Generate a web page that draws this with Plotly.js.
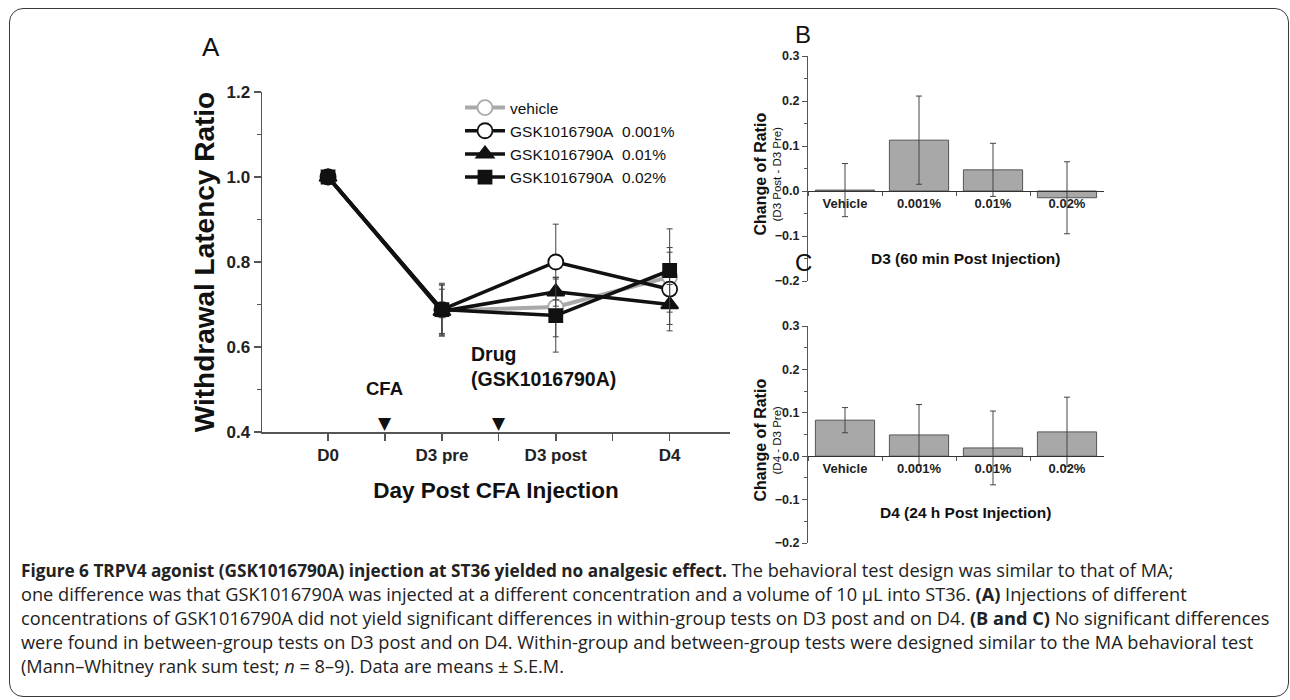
<!DOCTYPE html>
<html>
<head>
<meta charset="utf-8">
<script src="https://cdn.plot.ly/plotly-3.0.1.min.js"></script>
<style>
  html, body { margin: 0; padding: 0; background: #fff; }
  #wrap { position: relative; width: 1290px; height: 700px; overflow: hidden; }
  #chart { position: absolute; left: 0; top: 0; width: 1290px; height: 700px; }
  #frame { position: absolute; left: 9px; top: 8px; width: 1280px; height: 689px;
           border: 1.5px solid #3a3a3a; border-radius: 14px; pointer-events: none; box-sizing: border-box; }
</style>
</head>
<body>
<div id="wrap"><div id="chart"></div><div id="frame"></div></div>
<script>
// ---------------- DATA ----------------
// Panel A
const days = ["D0", "D3 pre", "D3 post", "D4"];
const seriesNames = ["vehicle", "GSK1016790A\u00a0 0.001%", "GSK1016790A\u00a0 0.01%", "GSK1016790A\u00a0 0.02%"];
const vehicleRatio = [1.0, 0.686, 0.694, 0.765];
const vehicleSem   = [0.0, 0.060, 0.070, 0.058];
const dose001Ratio = [1.0, 0.688, 0.800, 0.736];
const dose001Sem   = [0.0, 0.062, 0.089, 0.098];
const dose01Ratio  = [1.0, 0.684, 0.730, 0.700];
const dose01Sem    = [0.0, 0.052, 0.034, 0.047];
const dose02Ratio  = [1.0, 0.688, 0.674, 0.780];
const dose02Sem    = [0.0, 0.058, 0.086, 0.098];
const eventLabels  = ["CFA", "Drug<br>(GSK1016790A)"];
const eventPositions = [1.5, 2.5];   // between days (axis units)

// Panels B and C
const groups = ["Vehicle", "0.001%", "0.01%", "0.02%"];
const changeD3 = [0.002, 0.113, 0.047, -0.015];
const semD3    = [0.059, 0.098, 0.059, 0.080];
const changeD4 = [0.083, 0.049, 0.019, 0.056];
const semD4    = [0.029, 0.070, 0.085, 0.080];

const captionLines = [
  "<b><span style='font-size:17.2px'>Figure 6 TRPV4 agonist (GSK1016790A) injection at ST36 yielded no analgesic effect.</span></b> The behavioral test design was similar to that of MA;",
  "one difference was that GSK1016790A was injected at a different concentration and a volume of 10 μL into ST36. <b>(A)</b> Injections of different",
  "concentrations of GSK1016790A did not yield significant differences in within-group tests on D3 post and on D4. <b>(B and C)</b> No significant differences",
  "were found in between-group tests on D3 post and on D4. Within-group and between-group tests were designed similar to the MA behavioral test",
  "(Mann–Whitney rank sum test; <i>n</i> = 8–9). Data are means ± S.E.M."
];

// ---------------- LAYOUT HELPERS ----------------
const W = 1290, H = 700;
const fx = p => p / W;
const fy = p => 1 - p / H;
const FONT = "Liberation Sans, Arial, sans-serif";
const dayIdx = days.map((d, i) => i + 1);

function lineTrace(name, y, e, color, symbol, fill, lw, ms) {
  return {
    type: "scatter", mode: "lines+markers", name: name,
    x: dayIdx, y: y, xaxis: "x", yaxis: "y",
    line: { color: color, width: lw },
    marker: { symbol: symbol, size: ms, color: fill, line: { color: color, width: 1.8 } },
    error_y: { type: "data", array: e, visible: true, color: "#444", thickness: 1, width: 3 },
    cliponaxis: false
  };
}

const traces = [
  lineTrace(seriesNames[0], vehicleRatio, vehicleSem, "#a9a9a9", "circle", "#ffffff", 4, 15),
  lineTrace(seriesNames[1], dose001Ratio, dose001Sem, "#111111", "circle", "#ffffff", 3.5, 15),
  lineTrace(seriesNames[2], dose01Ratio, dose01Sem, "#111111", "triangle-up", "#111111", 3.5, 15),
  lineTrace(seriesNames[3], dose02Ratio, dose02Sem, "#111111", "square", "#111111", 3.5, 13),
  {
    type: "bar", x: groups, y: changeD3, xaxis: "x2", yaxis: "y2", width: 0.8, showlegend: false,
    marker: { color: "#a8a8a8", line: { color: "#555", width: 1 } },
    error_y: { type: "data", array: semD3, visible: true, color: "#444", thickness: 1, width: 3 }
  },
  {
    type: "bar", x: groups, y: changeD4, xaxis: "x3", yaxis: "y3", width: 0.8, showlegend: false,
    marker: { color: "#a8a8a8", line: { color: "#555", width: 1 } },
    error_y: { type: "data", array: semD4, visible: true, color: "#444", thickness: 1, width: 3 }
  }
];

const axColor = "#555";
const tickFontA = { family: FONT, size: 17, weight: "bold", color: "#222" };
const tickFontB = { family: FONT, size: 12.5, weight: "bold", color: "#222" };
const tickFontBx = { family: FONT, size: 13, weight: "bold", color: "#222" };

function barYAxis(top, bottom, anchor) {
  return {
    domain: [fy(bottom), fy(top)], anchor: anchor, range: [-0.2, 0.3],
    dtick: 0.1, tickformat: ".1f", ticks: "outside", ticklen: 5, tickwidth: 1, tickcolor: axColor,
    minor: { dtick: 0.05, ticks: "outside", ticklen: 3, tickcolor: axColor },
    showline: true, linecolor: axColor, linewidth: 1, showgrid: false, zeroline: false,
    tickfont: tickFontB
  };
}
function barXAxis(left, right, zeroPx) {
  return {
    domain: [fx(left), fx(right)], anchor: "free", position: fy(zeroPx),
    type: "category", range: [-0.5, 3.5], tickson: "boundaries",
    ticks: "outside", ticklen: 4, tickwidth: 1, tickcolor: axColor,
    showline: true, linecolor: "#333", linewidth: 1.2, showgrid: false, zeroline: false,
    tickfont: tickFontBx
  };
}

// Panel geometry (pixels)
const B = { top: 56, bottom: 281 };
const C = { top: 326, bottom: 543 };
const zeroB = B.bottom - (B.bottom - B.top) * 0.4;
const zeroC = C.bottom - (C.bottom - C.top) * 0.4;

const annotations = [];
function addText(text, xp, yp, size, opts) {
  annotations.push(Object.assign({
    text: text, xref: "paper", yref: "paper", x: fx(xp), y: fy(yp),
    xanchor: "center", yanchor: "middle", showarrow: false,
    font: { family: FONT, size: size, color: "#111" }
  }, opts || {}));
}
// Panel letters
addText("A", 211, 47, 26);
addText("B", 803, 34, 24);
addText("C", 803, 262, 24);
// Event markers in panel A
eventPositions.forEach((p, i) => {
  annotations.push({ text: "▼", xref: "x", yref: "y", x: p, y: 0.4, yanchor: "bottom", yshift: -3,
    showarrow: false, font: { family: "DejaVu Sans", size: 17, color: "#111" } });
});
annotations.push({ text: "<b>" + eventLabels[0] + "</b>", xref: "x", yref: "paper", x: eventPositions[0], y: fy(388),
  yanchor: "middle", xanchor: "center", showarrow: false, font: { family: FONT, size: 18.5, color: "#111" } });
annotations.push({ text: "<b>" + eventLabels[1] + "</b>", xref: "x", yref: "paper", x: eventPositions[1], y: fy(366),
  yanchor: "middle", xanchor: "left", xshift: -30, align: "left", showarrow: false,
  font: { family: FONT, size: 19.5, color: "#111" } });
// Bar panel subtitles
addText("<b>D3 (60 min Post Injection)</b>", 965, 258, 15.5);
addText("<b>D4 (24 h Post Injection)</b>", 965, 512, 15.5);
// Bar panel y titles
addText("<b>Change of Ratio</b>", 760, (B.top + B.bottom) / 2 + 6, 16, { textangle: -90 });
addText("(D3 Post - D3 Pre)", 776, (B.top + B.bottom) / 2 + 6, 11.5, { textangle: -90 });
addText("<b>Change of Ratio</b>", 760, (C.top + C.bottom) / 2 + 6, 16, { textangle: -90 });
addText("(D4 - D3 Pre)", 776, (C.top + C.bottom) / 2 + 6, 11.5, { textangle: -90 });
// Caption
captionLines.forEach((t, i) => {
  annotations.push({ text: t, xref: "paper", yref: "paper", x: fx(19), y: fy(570 + i * 24),
    xanchor: "left", yanchor: "middle", showarrow: false, align: "left",
    font: { family: "Open Sans, sans-serif", size: 18.2, color: "#222" } });
});

const layout = {
  width: W, height: H, margin: { l: 0, r: 0, t: 0, b: 0 },
  paper_bgcolor: "#fff", plot_bgcolor: "rgba(0,0,0,0)",
  showlegend: true,
  legend: {
    x: fx(460), y: fy(91), xanchor: "left", yanchor: "top",
    bgcolor: "rgba(0,0,0,0)", tracegroupgap: 0, itemwidth: 40,
    font: { family: FONT, size: 15.5, color: "#111" }
  },
  xaxis: {
    domain: [fx(262), fx(730)], anchor: "y", range: [0.42, 4.53],
    tickvals: dayIdx, ticktext: days, ticks: "outside", ticklen: 7, tickwidth: 1.5, tickcolor: axColor,
    minor: { tickvals: eventPositions.concat([3.5]), ticks: "outside", ticklen: 7, tickwidth: 1.2, tickcolor: axColor },
    showline: true, linecolor: axColor, linewidth: 1.5, showgrid: false, zeroline: false,
    tickfont: tickFontA,
    title: { text: "Day Post CFA Injection", font: { family: FONT, size: 22.5, weight: "bold", color: "#111" }, standoff: 18 }
  },
  yaxis: {
    domain: [fy(432), fy(92)], anchor: "x", range: [0.4, 1.2],
    dtick: 0.2, tickformat: ".1f", ticks: "outside", ticklen: 7, tickwidth: 1.5, tickcolor: axColor,
    minor: { dtick: 0.1, ticks: "outside", ticklen: 4, tickcolor: axColor },
    showline: true, linecolor: axColor, linewidth: 1.5, showgrid: false, zeroline: false,
    tickfont: tickFontA,
    title: { text: "Withdrawal Latency Ratio", font: { family: FONT, size: 28, weight: "bold", color: "#111" }, standoff: 3 }
  },
  xaxis2: barXAxis(808, 1104, zeroB),
  yaxis2: barYAxis(B.top, B.bottom, "x2"),
  xaxis3: barXAxis(808, 1104, zeroC),
  yaxis3: barYAxis(C.top, C.bottom, "x3"),
  annotations: annotations
};

Plotly.newPlot("chart", traces, layout, { displayModeBar: false, staticPlot: true });
</script>
</body>
</html>
